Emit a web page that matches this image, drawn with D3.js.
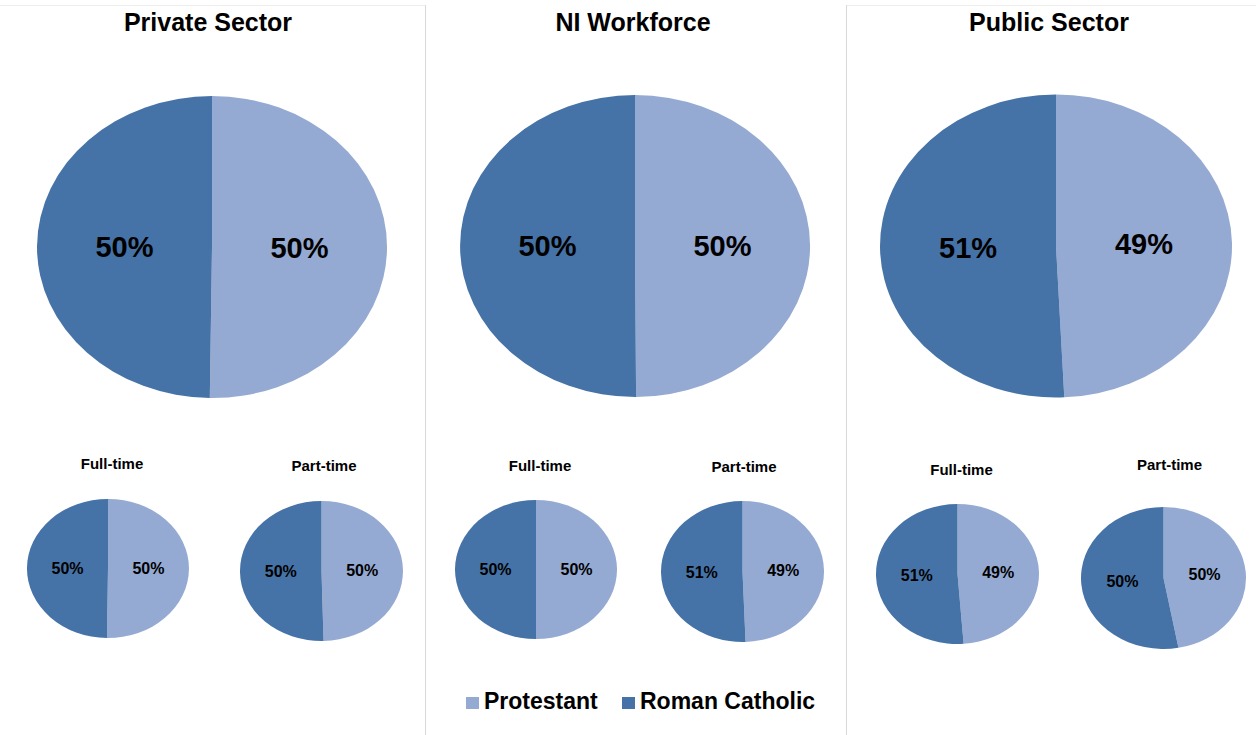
<!DOCTYPE html>
<html>
<head>
<meta charset="utf-8">
<script src="https://cdn.jsdelivr.net/npm/d3@7"></script>
<style>
  body { margin: 0; background: #fff; }
  svg { display: block; font-family: "Liberation Sans", Arial, sans-serif; }
</style>
</head>
<body>
<svg id="chart" width="1256" height="735"></svg>
<script>
// data
var panels = ["Private Sector", "NI Workforce", "Public Sector"];
var subTitles = ["Full-time", "Part-time"];
var series = ["Protestant", "Roman Catholic"];

// Protestant share (%) per panel, Roman Catholic is the rest
var protAll = [50.2, 49.9, 49.25];
var protFull = [50.2, 50.0, 48.8];
var protPart = [49.6, 49.4, 47.1];

// displayed labels [Protestant, Roman Catholic]
var labelsAll = [["50%", "50%"], ["50%", "50%"], ["49%", "51%"]];
var labelsFull = [["50%", "50%"], ["50%", "50%"], ["49%", "51%"]];
var labelsPart = [["50%", "50%"], ["49%", "51%"], ["50%", "50%"]];

var colors = ["#95aad2", "#4673a7"];

// layout of each pie: cx, cy, rx, ry
var bigPies = [[212, 247, 175, 151], [635, 246, 175, 151], [1056, 246, 176, 151.5]];
var fullPies = [[108, 568.5, 81, 69.5], [536, 569.5, 81, 69.5], [957.5, 574, 81.5, 70]];
var partPies = [[321.5, 571, 81.5, 70], [742.5, 571.5, 81.5, 70.5], [1163.5, 578, 82.5, 71]];
var titleX = [208, 633, 1049];
var fullTitle = [[112, 469], [540, 471], [961.5, 475]];
var partTitle = [[324, 471], [744, 472], [1169.5, 470]];

var svg = d3.select("#chart");

// panel borders
svg.append("line").attr("x1", 0).attr("x2", 425).attr("y1", 5.5).attr("y2", 5.5).attr("stroke", "#eeeeee");
svg.append("line").attr("x1", 846).attr("x2", 1256).attr("y1", 5.5).attr("y2", 5.5).attr("stroke", "#eeeeee");
[425.5, 846.5].forEach(function(x) {
    svg.append("line").attr("x1", x).attr("x2", x).attr("y1", 5).attr("y2", 735)
        .attr("stroke", "#d9d9d9");
});

var pie = d3.pie().sort(null).value(function(d) { return d; });

function drawPie(geo, prot, labels, fontSize) {
    var cx = geo[0], cy = geo[1], rx = geo[2], ry = geo[3];
    var k = ry / rx;
    var arcs = pie([prot, 100 - prot]);
    var arc = d3.arc().innerRadius(0).outerRadius(rx);
    var g = svg.append("g").attr("transform", "translate(" + cx + "," + cy + ")");
    g.append("g").attr("transform", "scale(1," + k + ")")
        .selectAll("path").data(arcs).enter().append("path")
        .attr("d", arc)
        .attr("fill", function(d, i) { return colors[i]; });
    g.selectAll("text").data(arcs).enter().append("text")
        .attr("x", function(d) { return arc.centroid(d)[0]; })
        .attr("y", function(d) { return arc.centroid(d)[1] * k; })
        .attr("text-anchor", "middle")
        .attr("dy", "0.35em")
        .attr("font-size", fontSize)
        .attr("font-weight", "bold")
        .attr("fill", "#000")
        .text(function(d, i) { return labels[i]; });
}

panels.forEach(function(name, i) {
    svg.append("text").attr("x", titleX[i]).attr("y", 31)
        .attr("text-anchor", "middle").attr("font-size", 25).attr("font-weight", "bold")
        .text(name);
    drawPie(bigPies[i], protAll[i], labelsAll[i], 29);

    svg.append("text").attr("x", fullTitle[i][0]).attr("y", fullTitle[i][1])
        .attr("text-anchor", "middle").attr("font-size", 15).attr("font-weight", "bold")
        .text(subTitles[0]);
    drawPie(fullPies[i], protFull[i], labelsFull[i], 16);

    svg.append("text").attr("x", partTitle[i][0]).attr("y", partTitle[i][1])
        .attr("text-anchor", "middle").attr("font-size", 15).attr("font-weight", "bold")
        .text(subTitles[1]);
    drawPie(partPies[i], protPart[i], labelsPart[i], 16);
});

// legend
var legendX = [466, 622];
var lg = svg.selectAll("g.legend").data(series).enter().append("g")
    .attr("class", "legend")
    .attr("transform", function(d, i) { return "translate(" + legendX[i] + ",697)"; });
lg.append("rect").attr("width", 13).attr("height", 12)
    .attr("fill", function(d, i) { return colors[i]; });
lg.append("text").attr("x", 18).attr("y", 12)
    .attr("font-size", 23).attr("font-weight", "bold")
    .text(function(d) { return d; });
</script>
</body>
</html>
